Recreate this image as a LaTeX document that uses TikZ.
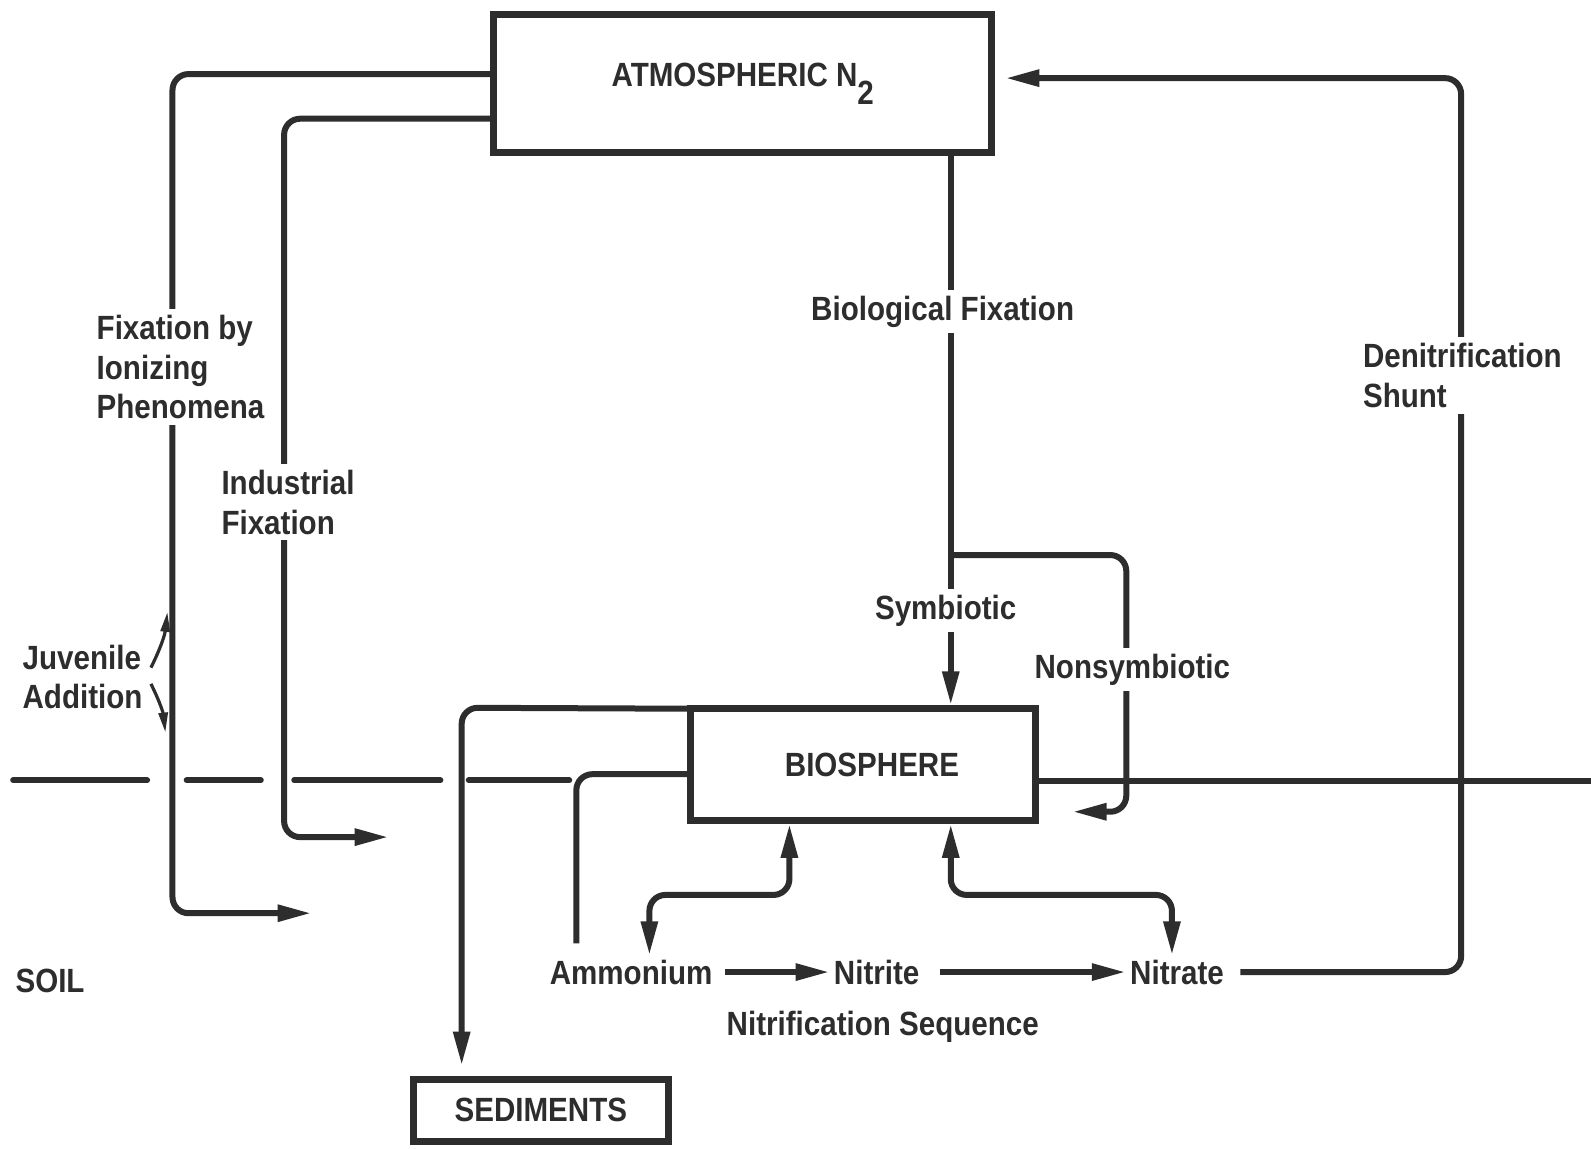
\documentclass[tikz,border=0pt]{standalone}
\usepackage{fontspec}
\setmainfont{Liberation Sans}[FakeStretch=0.88]
\usetikzlibrary{arrows.meta}
\definecolor{ink}{RGB}{45,45,45}
\begin{document}
\begin{tikzpicture}[x=0.50735pt,y=-0.50735pt,
  font=\bfseries\fontsize{16.8pt}{19.8pt}\selectfont,
  >={Triangle[length=17pt,width=8pt]},
  flow/.style={draw=ink, line width=3pt, rounded corners=8pt},
  box/.style={draw=ink, line width=3.5pt, text=ink, inner sep=0pt},
  lbl/.style={text=ink, fill=white, inner sep=3pt, align=left},
  word/.style={text=ink, inner sep=2pt},
  thin/.style={draw=ink, line width=1.6pt, -{Triangle[length=10pt,width=4.5pt]}},
  ground/.style={draw=ink, line width=3pt, line cap=round}]
\fill[white] (0,0) rectangle (1568,1132);
\useasboundingbox (0,0) rectangle (1568,1132);

% boxes
\node[box, minimum width=491*0.50735pt, minimum height=136*0.50735pt] (atm) at (732,82.5)
  {ATMOSPHERIC N\raisebox{-9pt}{2}};
\node[box, minimum width=340*0.50735pt, minimum height=110*0.50735pt] (bio) at (850.5,753.5)
  {\hspace*{9pt}BIOSPHERE};
\node[box, minimum width=251*0.50735pt, minimum height=61*0.50735pt] (sed) at (533,1094)
  {SEDIMENTS};

% nitrification words
\node[word] (amm) at (622,958) {Ammonium};
\node[word] (nitrite) at (864,958) {Nitrite};
\node[word] (nitrate) at (1160,958) {Nitrate};

% ground line
\draw[ground] (13,769) -- (145,769) (184,769) -- (257,769)
  (290,769) -- (434,769) (462,769) -- (561,769);
\draw[ground] (bio.east |- 0,770) -- (1568,770);

% connectors
\draw[flow,->] (atm.west |- 0,73) -- (170,73) -- (170,900) -- (307,900);
\draw[flow,->] (atm.west |- 0,117) -- (280,117) -- (280,825) -- (383,825);
\draw[flow,->] (atm.south -| 937,0) -- (bio.north -| 937,0);
\draw[flow,->] (937,547) -- (1110,547) -- (1110,800) -- (1057,800);
\draw[flow,->,shorten <=6pt,shorten >=5pt] (nitrate.east) -- (nitrate.east -| 1440,0)
  -- (1440,77) -- (atm.east |- 0,77);
\draw[flow,->,shorten >=5pt] ([xshift=3pt,yshift=-1.75pt]bio.north west) -- (455,697.5) -- (sed.north -| 455,0);
\draw[flow,shorten >=6pt] (bio.west |- 0,763) -- (568,763) -- (amm.north -| 568,0);
\draw[flow,<->] (bio.south -| 778,0) -- (778,882) -- (640,882) -- (amm.north -| 640,0);
\draw[flow,<->] (bio.south -| 937,0) -- (937,882) -- (1155,882) -- (nitrate.north -| 1155,0);
\draw[flow,->,shorten <=4pt] (amm.east) -- (nitrite.west);
\draw[flow,->,shorten <=8pt] (nitrite.east) -- (nitrate.west);

% labels over lines
\node[lbl, anchor=west] (ioniz) at (89,362) {Fixation by\\Ionizing\\Phenomena};
\node[lbl, anchor=west] (indus) at (212,495) {Industrial\\Fixation};
\node[lbl] (biol) at (929,307) {Biological Fixation};
\node[lbl, anchor=west] (denit) at (1337,370) {Denitrification\\Shunt};
\node[lbl] (symb) at (932,602) {Symbiotic};
\node[lbl] (nonsym) at (1116,660) {Nonsymbiotic};
\node[lbl, anchor=west] (juv) at (16,667) {Juvenile\\Addition};
\node[lbl, anchor=west] (soil) at (9,967) {SOIL};
\node[lbl] (nseq) at (870,1012) {Nitrification Sequence};

% juvenile arrows
\draw[thin] ([shift={(2,-9)}]juv.east) to[bend right=10] (165,603);
\draw[thin] ([shift={(2,7)}]juv.east) to[bend left=10] (163,722);
\end{tikzpicture}
\end{document}
